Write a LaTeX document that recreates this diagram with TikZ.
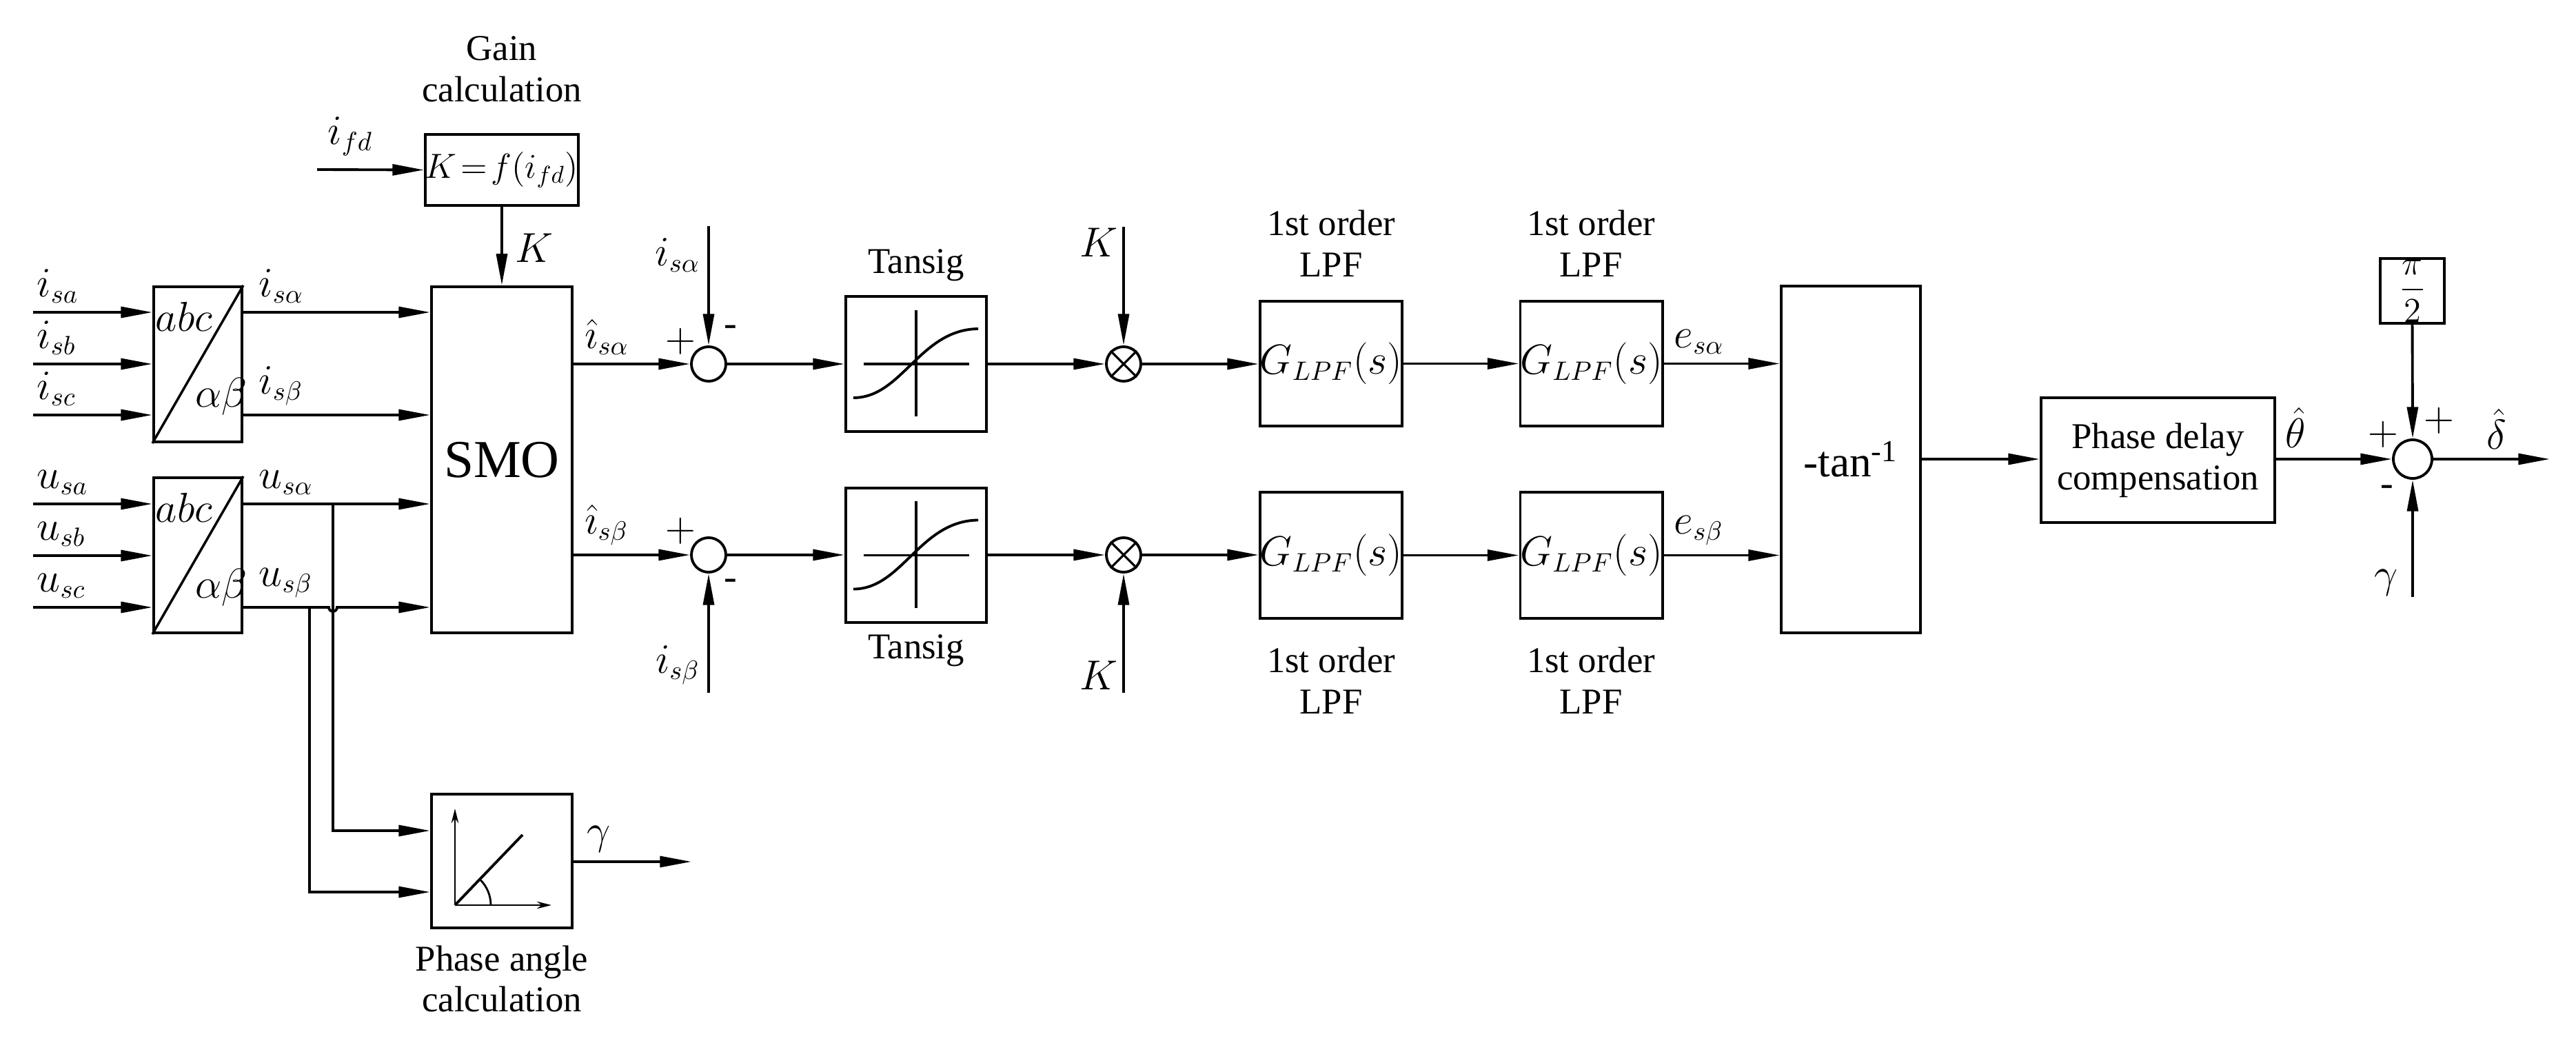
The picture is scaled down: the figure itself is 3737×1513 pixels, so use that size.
\documentclass[tikz,border=0pt]{standalone}
\usepackage{fontspec}
\setmainfont{Liberation Serif}
\usetikzlibrary{arrows.meta}
\begin{document}
\begin{tikzpicture}[x=0.01cm,y=-0.01cm,line width=1.1pt,
  arr/.style={-{Triangle[length=13pt,width=4.5pt]}},
  box/.style={draw,rectangle,inner sep=0pt},
  sum/.style={draw,circle,minimum size=0.5cm,inner sep=0pt},
  lab/.style={font=\fontsize{16}{18}\selectfont},
  big/.style={font=\fontsize{16}{18}\selectfont},
  txt/.style={font=\fontsize{15}{17}\selectfont,align=center}]
\useasboundingbox (0,0) rectangle (3737,1513);
% blocks
\node[box,minimum width=1.28cm,minimum height=2.25cm] (abc1) at (287,528.5) {};
\node[box,minimum width=1.28cm,minimum height=2.25cm] (abc2) at (287,805.5) {};
\foreach \b in {abc1,abc2}{
  \draw[line width=1pt] (\b.south west) -- (\b.north east);
  \node[big] at ([xshift=0.46cm,yshift=-0.45cm]\b.north west) {$abc$};
  \node[big] at ([xshift=-0.32cm,yshift=0.68cm]\b.south east) {$\alpha\beta$};}
\node[box,minimum width=2.04cm,minimum height=5.02cm,font=\fontsize{22}{24}\selectfont] (smo) at (728,667) {SMO};
\node[box,minimum width=1.88cm,minimum height=1.03cm,font=\fontsize{14}{16}\selectfont] (gain) at (728,246.5) {$K\!=\!f(i_{fd})$};
\node[txt] at (728,100) {Gain\\calculation};
\node[box,minimum width=2.04cm,minimum height=1.94cm] (pa) at (728,1249) {};
\node[txt] at (728,1420) {Phase angle\\calculation};
\draw[-{Stealth[length=6pt,width=3pt]},line width=0.8pt] (660,1313) -- (660,1173);
\draw[-{Stealth[length=6pt,width=3pt]},line width=0.8pt] (660,1313) -- (800,1313);
\draw (660,1313) -- (758,1211);
\draw[line width=0.8pt] (712,1313) arc (0:-45:52);
\node[sum] (s1) at (1028,528) {};
\node[sum] (s2) at (1028,805) {};
\node[box,minimum width=2.04cm,minimum height=1.96cm] (t1) at (1329,528) {};
\node[box,minimum width=2.04cm,minimum height=1.95cm] (t2) at (1329,805.5) {};
\foreach \t in {t1,t2}{
  \draw ([xshift=-0.76cm]\t.center) -- ([xshift=0.77cm]\t.center);
  \draw ([yshift=0.78cm]\t.center) -- ([yshift=-0.76cm]\t.center);
  \draw ([xshift=-0.91cm,yshift=-0.49cm]\t.center) .. controls ([xshift=-0.2cm,yshift=-0.49cm]\t.center) and ([xshift=0.05cm,yshift=0.5cm]\t.center) .. ([xshift=0.9cm,yshift=0.51cm]\t.center);}
\node[txt] at (1329,385) {Tansig};
\node[txt] at (1329,944) {Tansig};
\node[sum] (m1) at (1630,528) {};
\node[sum] (m2) at (1630,805) {};
\foreach \m in {m1,m2}{\draw[line width=0.9pt] (\m.north west) -- (\m.south east) (\m.north east) -- (\m.south west);}
\node[box,minimum width=2.04cm,minimum height=1.81cm,big] (l1) at (1931,527.5) {$G_{LPF}(s)$};
\node[box,minimum width=2.04cm,minimum height=1.83cm,big] (l2) at (1931,805.5) {$G_{LPF}(s)$};
\node[box,minimum width=2.03cm,minimum height=1.81cm,big] (l3) at (2308.5,527.5) {$G_{LPF}(s)$};
\node[box,minimum width=2.03cm,minimum height=1.83cm,big] (l4) at (2308.5,805.5) {$G_{LPF}(s)$};
\node[txt] at (1931,353) {1st order\\LPF};
\node[txt] at (2308,353) {1st order\\LPF};
\node[txt] at (1931,987) {1st order\\LPF};
\node[txt] at (2308,987) {1st order\\LPF};
\node[box,minimum width=2.02cm,minimum height=5.03cm,font=\fontsize{18}{20}\selectfont] (tan) at (2685,666.5) {-tan\textsuperscript{-1}};
\node[box,minimum width=3.39cm,minimum height=1.81cm,txt] (pdc) at (3130.5,667.5) {Phase delay\\compensation};
\node[sum,minimum size=0.56cm] (s3) at (3500,666) {};
\node[box,minimum width=0.93cm,minimum height=0.94cm,font=\fontsize{14}{16}\selectfont] (pi) at (3499.5,422) {$\displaystyle\frac{\pi}{2}$};
% inputs
\foreach \y/\n/\l in {453/ia/i_{sa},528/ib/i_{sb},602/ic/i_{sc},731/ua/u_{sa},806/ub/u_{sb},881/uc/u_{sc}}{
  \coordinate (\n) at (48,\y);
  \node[lab,anchor=south west] at (40,\y) {$\l$};}
\foreach \n in {ia,ib,ic}{\draw[arr] (\n) -- (\n -| abc1.west);}
\foreach \n in {ua,ub,uc}{\draw[arr] (\n) -- (\n -| abc2.west);}
\coordinate (o1) at (351,453); \coordinate (o2) at (351,602);
\coordinate (o3) at (351,731); \coordinate (o4) at (351,881);
\draw[arr] (o1) -- (o1 -| smo.west);
\draw[arr] (o2) -- (o2 -| smo.west);
\draw[arr] (o3) -- (o3 -| smo.west);
\draw[arr] (o4) -- (477,881) arc (180:0:6) -- (o4 -| smo.west);
\node[lab,anchor=south west] at (362,453) {$i_{s\alpha}$};
\node[lab,anchor=south west] at (362,602) {$i_{s\beta}$};
\node[lab,anchor=south west] at (362,731) {$u_{s\alpha}$};
\node[lab,anchor=south west] at (362,881) {$u_{s\beta}$};
\coordinate (pin1) at (pa.west |- 0,1205); \coordinate (pin2) at (pa.west |- 0,1294);
\draw[arr] (483,731) -- (483,1205) -- (pin1);
\draw[arr] (449,881) -- (449,1294) -- (pin2);
\coordinate (gout) at (1003,1250);
\draw[arr] (pa.east |- gout) -- (gout);
\node[lab,anchor=south west] at (838,1250) {$\gamma$};
% gain
\coordinate (ifd) at (460,246);
\draw[arr] (ifd) -- (gain.west);
\node[lab,anchor=south west] at (462,240) {$i_{fd}$};
\draw[arr] (gain.south) -- (smo.north);
\node[lab] at (775,360) {$K$};
% SMO outputs
\draw[arr] (smo.east |- s1) -- (s1.west);
\draw[arr] (smo.east |- s2) -- (s2.west);
\node[lab,anchor=south west] at (835,528) {$\hat{\imath}_{s\alpha}$};
\node[lab,anchor=south west] at (835,805) {$\hat{\imath}_{s\beta}$};
\coordinate (isa) at (1028,328); \coordinate (isb) at (1028,1005);
\draw[arr] (isa) -- (s1.north);
\draw[arr] (isb) -- (s2.south);
\node[lab] at (983,370) {$i_{s\alpha}$};
\node[lab] at (983,965) {$i_{s\beta}$};
\node[lab] at (987,495) {$+$}; \node[lab] at (1060,480) {-};
\node[lab] at (987,770) {$+$}; \node[lab] at (1060,848) {-};
% chain
\draw[arr] (s1.east) -- (t1.west); \draw[arr] (s2.east) -- (t2.west |- s2);
\draw[arr] (t1.east) -- (m1.west); \draw[arr] (t2.east |- m2) -- (m2.west);
\draw[arr] (m1.east) -- (l1.west |- m1); \draw[arr] (m2.east) -- (l2.west |- m2);
\draw[arr] (l1.east) -- (l3.west); \draw[arr] (l2.east) -- (l4.west);
\draw[arr] (l3.east) -- (l3.east -| tan.west);
\draw[arr] (l4.east) -- (l4.east -| tan.west);
\node[lab,anchor=south west] at (2415,527) {$e_{s\alpha}$};
\node[lab,anchor=south west] at (2415,805) {$e_{s\beta}$};
\coordinate (k1) at (1630,329); \coordinate (k2) at (1630,1005);
\draw[arr] (k1) -- (m1.north); \draw[arr] (k2) -- (m2.south);
\node[lab] at (1594,352) {$K$}; \node[lab] at (1594,980) {$K$};
% right
\draw[arr] (tan.east |- s3) -- (pdc.west |- s3);
\draw[arr] (pdc.east |- s3) -- (s3.west);
\node[lab] at (3330,620) {$\hat{\theta}$};
\draw[arr] (pi.south) -- (s3.north);
\coordinate (gin) at (3500,866);
\draw[arr] (gin) -- (s3.south);
\node[lab] at (3462,845) {$\gamma$};
\coordinate (dout) at (3699,666);
\draw[arr] (s3.east) -- (dout);
\node[lab] at (3622,622) {$\hat{\delta}$};
\node[lab] at (3457,630) {$+$}; \node[lab] at (3538,610) {$+$};
\node[lab] at (3463,712) {-};
\end{tikzpicture}
\end{document}
